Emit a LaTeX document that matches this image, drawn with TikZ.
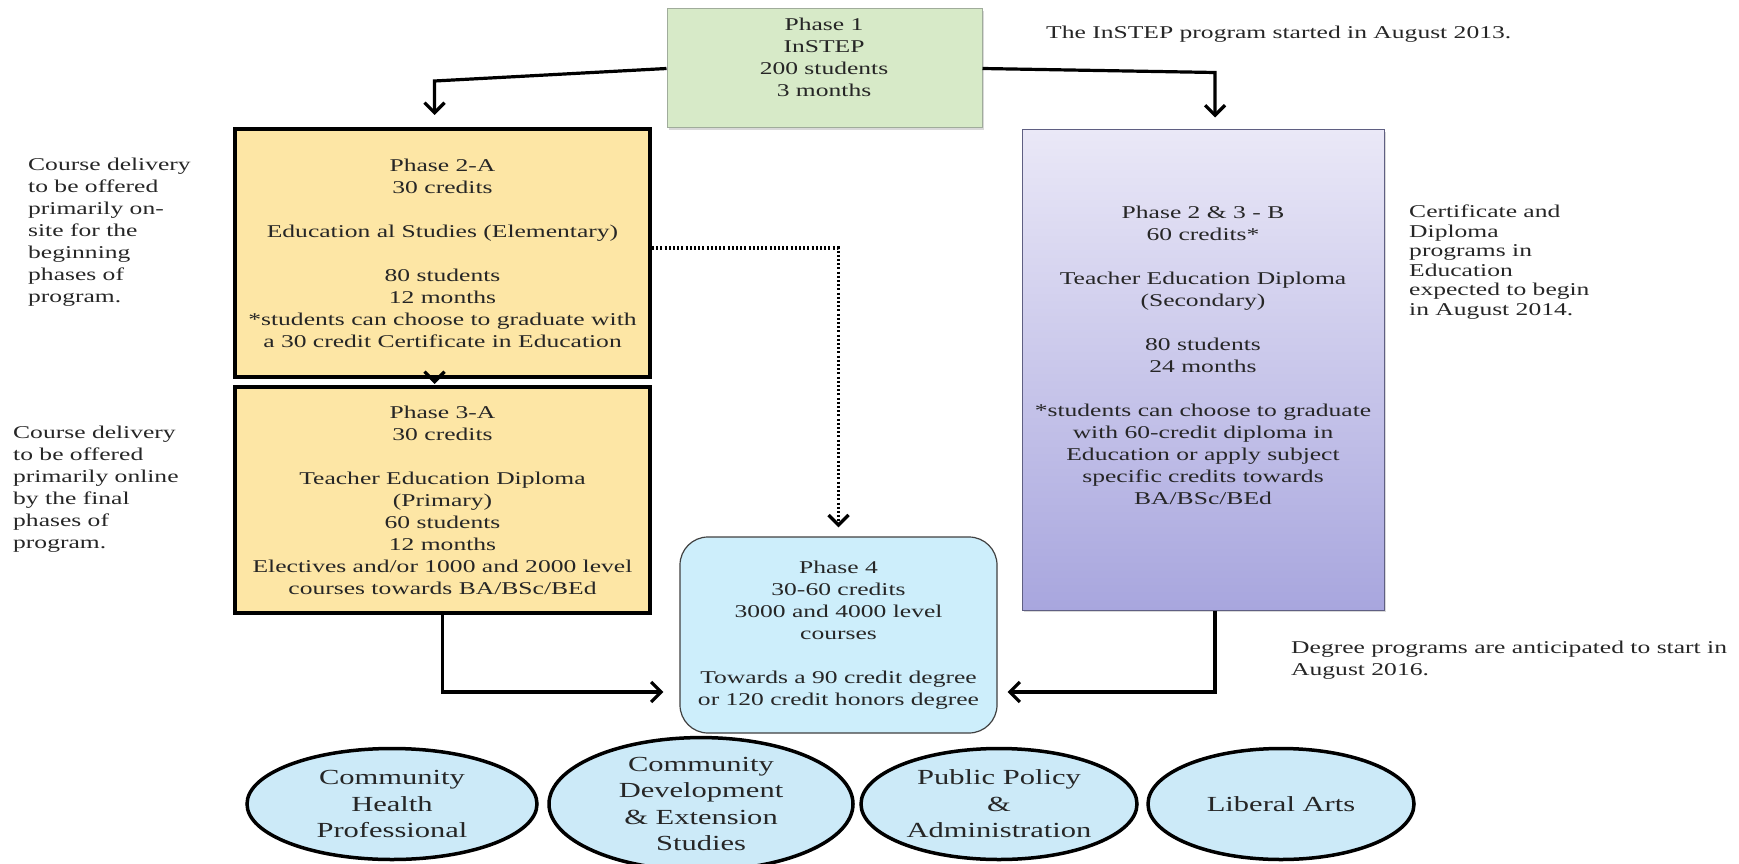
\documentclass[tikz,border=0pt]{standalone}
\usepackage{fontspec}
\setmainfont{Liberation Serif}[FakeStretch=1.42]
\usetikzlibrary{arrows.meta,shapes.geometric,calc,shadows}
\definecolor{greenbox}{RGB}{215,234,200}
\definecolor{greenedge}{RGB}{160,172,155}
\definecolor{yellowbox}{RGB}{253,230,165}
\definecolor{purtop}{RGB}{234,232,247}
\definecolor{purbot}{RGB}{168,166,222}
\definecolor{puredge}{RGB}{95,95,130}
\definecolor{bluebox}{RGB}{205,238,251}
\definecolor{ellblue}{RGB}{204,234,248}
\begin{document}
\begin{tikzpicture}[x=1pt,y=-1pt,
  txt/.style={font=\fontsize{18}{22}\selectfont, text=black!85, inner sep=0pt},
  phasebox/.style={draw=black, line width=4pt, fill=yellowbox, minimum width=415pt, align=center, txt},
  arr/.style={line width=3.2pt, -{Straight Barb[length=10pt,width=20pt]}},
  dotarr/.style={line width=3.4pt, dash pattern=on 2pt off 2.2pt, -{Straight Barb[length=10pt,width=20pt]}},
  ell/.style={ellipse, draw=black, line width=3.5pt, fill=ellblue, inner sep=0pt, align=center,
              font=\fontsize{21.5}{26.5}\selectfont, text=black!85},
  note/.style={txt, align=left, anchor=north west}
]
\useasboundingbox (0,0) rectangle (1739,864);

% Phase 1
\node[draw=greenedge, line width=1pt, fill=greenbox, minimum width=315pt, minimum height=119pt,
      drop shadow={shadow xshift=2pt, shadow yshift=-2pt, opacity=0.3}] (p1) at (824.5,68.5) {};
\node[txt, align=center] (p1t) at (824,57) {Phase 1\\InSTEP\\200 students\\3 months};

% Phase 2-A and 3-A
\node[phasebox, minimum height=248pt] (p2a) at (442.5,253)
 {Phase 2-A\\30 credits\\[22pt]Education al Studies (Elementary)\\[22pt]80 students\\12 months\\*students can choose to graduate with\\a 30 credit Certificate in Education};
\node[phasebox, minimum height=226pt] (p3a) at (442.5,500)
 {Phase 3-A\\30 credits\\[22pt]Teacher Education Diploma\\(Primary)\\60 students\\12 months\\Electives and/or 1000 and 2000 level\\courses towards BA/BSc/BEd};

% Phase 2 & 3 - B
\node[draw=puredge, line width=1pt, top color=purtop, bottom color=purbot, minimum width=362pt, minimum height=480pt,
      drop shadow={shadow xshift=2pt, shadow yshift=-2pt, opacity=0.3}] (p23b) at (1203,370) {};
\node[txt, align=center] (p23bt) at (1203,355)
 {Phase 2 \& 3 - B\\60 credits*\\[22pt]Teacher Education Diploma\\(Secondary)\\[22pt]80 students\\24 months\\[22pt]*students can choose to graduate\\with 60-credit diploma in\\Education or apply subject\\specific credits towards\\BA/BSc/BEd};

% Phase 4
\node[draw=black!75, line width=1.2pt, fill=bluebox, rounded corners=28pt, minimum width=317pt, minimum height=196pt,
      txt, align=center] (p4) at (838.5,635)
 {Phase 4\\30-60 credits\\3000 and 4000 level\\courses\\[22pt]Towards a 90 credit degree\\or 120 credit honors degree};

% Ellipses
\node[ell, minimum width=290pt, minimum height=111pt] (e1) at (392,804) {Community\\Health\\Professional};
\node[ell, minimum width=304pt, minimum height=111pt] (e2) at (701,804) {Community\\Development\\\& Extension\\Studies};
\node[ell, minimum width=276pt, minimum height=111pt] (e3) at (999,804) {Public Policy\\\&\\Administration};
\node[ell, minimum width=266pt, minimum height=111pt] (e4) at (1281,804) {Liberal Arts};

% Notes
\node[txt, anchor=north west] (n0) at (1046,26) {The InSTEP program started in August 2013.};
\node[note] (n1) at (28,158) {Course delivery\\to be offered\\primarily on-\\site for the\\beginning\\phases of\\program.};
\node[note] (n2) at (13,426) {Course delivery\\to be offered\\primarily online\\by the final\\phases of\\program.};
\node[note, font=\fontsize{18}{19.5}\selectfont] (n3) at (1409,205) {Certificate and\\Diploma\\programs in\\Education\\expected to begin\\in August 2014.};
\node[note] (n4) at (1291,641) {Degree programs are anticipated to start in\\August 2016.};

% Connectors
\draw[arr, shorten >=12pt] (p1.west) -- ($(p2a.north)+(-8,-46)$) -- ($(p2a.north)+(-8,0)$);
\draw[arr, shorten >=12pt] (p1.east) -- ($(p23b.north)+(12,-57)$) -- ($(p23b.north)+(12,0)$);
\draw[arr, shorten >=1pt] ($(p2a.south)+(-8,0)$) -- ($(p3a.north)+(-8,0)$);
\draw[dotarr, shorten >=9pt] ($(p2a.east)+(0,-5)$) -| (p4.north);
\draw[arr, shorten >=16pt] (p3a.south) |- ($(p4.west)+(0,57)$);
\draw[arr, shorten >=10pt] ($(p23b.south)+(12,0)$) |- ($(p4.east)+(0,57)$);
\end{tikzpicture}
\end{document}
